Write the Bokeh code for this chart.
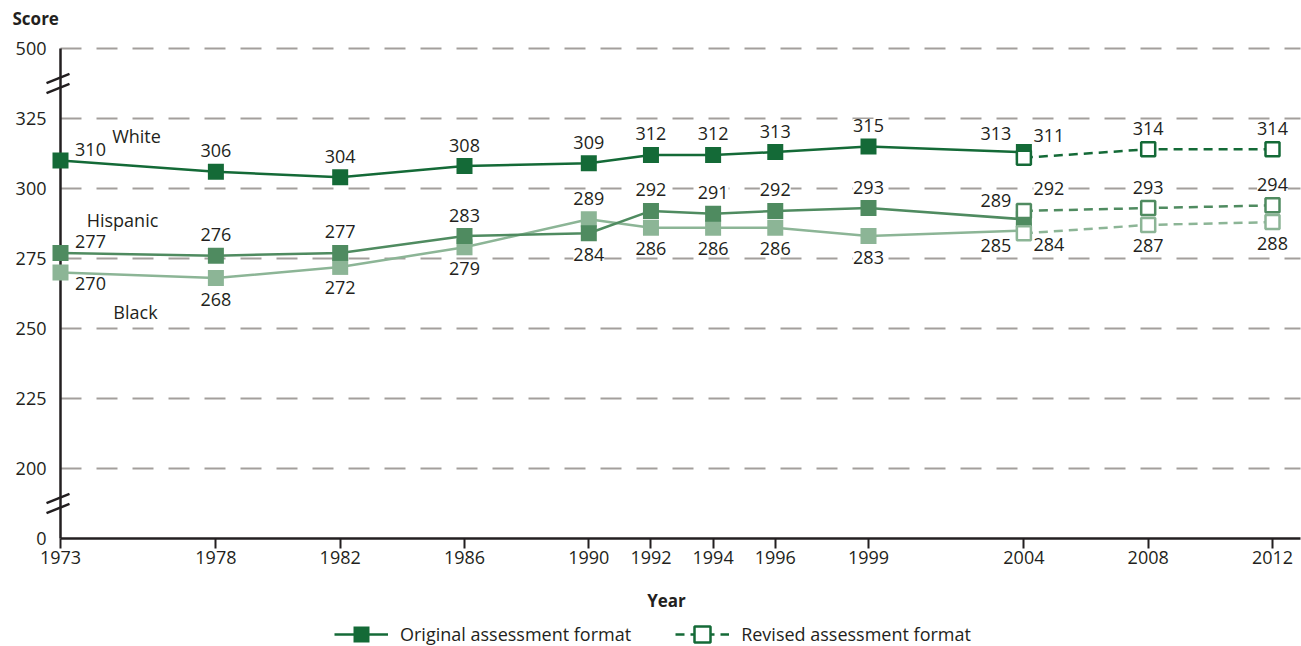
from bokeh.plotting import figure
from bokeh.models import (ColumnDataSource, FixedTicker, LabelSet, Label, Legend, LegendItem)
from bokeh.core.properties import value
from bokeh.embed import file_html
from bokeh.resources import INLINE

# ---------------- data ----------------
years_orig = [1973, 1978, 1982, 1986, 1990, 1992, 1994, 1996, 1999, 2004]
years_rev = [2004, 2008, 2012]

white_orig = [310, 306, 304, 308, 309, 312, 312, 313, 315, 313]
white_rev = [311, 314, 314]
hisp_orig = [277, 276, 277, 283, 284, 292, 291, 292, 293, 289]
hisp_rev = [292, 293, 294]
black_orig = [270, 268, 272, 279, 289, 286, 286, 286, 283, 285]
black_rev = [284, 287, 288]

x_ticks = [1973, 1978, 1982, 1986, 1990, 1992, 1994, 1996, 1999, 2004, 2008, 2012]
y_ticks = [0, 200, 225, 250, 275, 300, 325, 500]

legend_labels = ["Original assessment format", "Revised assessment format"]

# label placement codes (styling, not data)
white_pos_orig = ["r", "a", "a", "a", "a", "a", "a", "a", "a", "al"]
white_pos_rev = ["ar", "a", "a"]
hisp_pos_orig = ["r", "a", "a", "a", "b", "a", "a", "a", "a", "al"]
hisp_pos_rev = ["ar", "a", "a"]
black_pos_orig = ["rb", "b", "b", "b", "a", "b", "b", "b", "b", "bl"]
black_pos_rev = ["br", "b", "b"]
OFF = {"a": (0, 21), "b": (0, -21), "r": (30, 11), "rb": (30, -11),
       "al": (-28, 19), "ar": (25, 22), "bl": (-28, -15), "br": (25, -11)}

# ---------------- style ----------------
FONT = "Open Sans"
FS = "18px"
TXT = "#231f20"
GRID = "#a39f9c"
C_WHITE = "#146a37"
C_HISP = "#4f8b60"
C_BLACK = "#8cb596"

# broken axis: 0 -> 175, 500 -> 350, 200..325 identity
LO, HI = 175, 350


def ymap(v):
    if v <= 0:
        return LO
    if v >= 500:
        return HI
    return v


W, H = 1301, 646
PX_X = 31.077          # pixels per year
PX_Y = 2.8             # pixels per score unit
AX_X, AX_Y = 60, 538   # pixel position of the axes' corner
xs0 = x_ticks[0] - AX_X / PX_X
xs1 = x_ticks[0] + (W - AX_X) / PX_X
ys0 = LO - (H - AX_Y) / PX_Y
ys1 = LO + AX_Y / PX_Y
x_end = xs1 - 1 / PX_X

p = figure(width=W, height=H, x_range=(xs0, xs1), y_range=(ys0, ys1),
           output_backend="svg", toolbar_location=None, min_border=0)
p.outline_line_color = None
p.grid.visible = False
p.background_fill_color = "white"

# x axis (fixed inside the frame)
xa = p.xaxis[0]
xa.fixed_location = LO
xa.ticker = FixedTicker(ticks=x_ticks)
xa.axis_line_color = None
xa.major_tick_out = 10
xa.major_tick_in = 0
xa.minor_tick_line_color = None
xa.major_tick_line_color = TXT
xa.major_tick_line_width = 2
xa.major_label_text_font = FONT
xa.major_label_text_font_size = FS
xa.major_label_text_color = TXT
xa.major_label_standoff = 2

# y axis
ya = p.yaxis[0]
ya.fixed_location = x_ticks[0]
ya.ticker = FixedTicker(ticks=[ymap(v) for v in y_ticks])
ya.major_label_overrides = {ymap(v): str(v) for v in y_ticks}
ya.axis_line_color = None
ya.major_tick_out = 0
ya.major_tick_in = 0
ya.minor_tick_line_color = None
ya.major_label_text_font = FONT
ya.major_label_text_font_size = FS
ya.major_label_text_color = TXT
ya.major_label_standoff = 14

# grid lines
grid_y = [ymap(v) for v in y_ticks if v > 0]
p.segment(x0=[x_ticks[0]] * len(grid_y), y0=grid_y, x1=[x_end] * len(grid_y), y1=grid_y,
          line_color=GRID, line_width=2, line_dash="21 15", level="underlay")

# axis lines
p.segment(x0=[x_ticks[0], x_ticks[0]], y0=[LO, LO], x1=[x_end, x_ticks[0]], y1=[LO, HI],
          line_color=TXT, line_width=2.5)

# break marks
bx0, by0, bx1, by1 = [], [], [], []
for yc in [(ymap(325) + ymap(500)) / 2, (ymap(0) + ymap(200)) / 2]:
    for d in (-1.8, 1.8):
        bx0.append(x_ticks[0] - 14 / PX_X)
        by0.append(yc + d - 1.65)
        bx1.append(x_ticks[0] + 9 / PX_X)
        by1.append(yc + d + 1.65)
p.segment(x0=bx0, y0=by0, x1=bx1, y1=by1, line_color=TXT, line_width=2.5)


# value labels (under glyphs, knocking out gridlines)
def add_labels(xv, yv, pos):
    src = ColumnDataSource(dict(x=xv, y=yv, text=[str(v) for v in yv],
                                dx=[OFF[c][0] for c in pos], dy=[OFF[c][1] for c in pos]))
    p.add_layout(LabelSet(x="x", y="y", text="text", x_offset="dx", y_offset="dy", source=src,
                          text_align="center", text_baseline="middle",
                          text_font=value(FONT), text_font_size=value(FS), text_color=TXT,
                          background_fill_color="white", level="underlay"))


add_labels(years_orig, white_orig, white_pos_orig)
add_labels(years_rev, white_rev, white_pos_rev)
add_labels(years_orig, hisp_orig, hisp_pos_orig)
add_labels(years_rev, hisp_rev, hisp_pos_rev)
add_labels(years_orig, black_orig, black_pos_orig)
add_labels(years_rev, black_rev, black_pos_rev)

# series
rend = {}
for name, yo, col in [("Black", black_orig, C_BLACK), ("Hispanic", hisp_orig, C_HISP),
                      ("White", white_orig, C_WHITE)]:
    l = p.line(years_orig, yo, line_color=col, line_width=2.5)
    s = p.scatter(years_orig, yo, marker="square", size=16, fill_color=col, line_color=None)
    rend[name] = (l, s)
rrend = {}
for name, yr, col in [("Black", black_rev, C_BLACK), ("Hispanic", hisp_rev, C_HISP),
                      ("White", white_rev, C_WHITE)]:
    l = p.line(years_rev, yr, line_color=col, line_width=2.5, line_dash="9 6")
    s = p.scatter(years_rev, yr, marker="square", size=14, fill_color="white",
                  line_color=col, line_width=2.5)
    rrend[name] = (l, s)

# series names
for nm, yv, dx, dy in [("White", white_orig, 76, 25), ("Hispanic", hisp_orig, 62, 33),
                       ("Black", black_orig, 75, -39)]:
    p.add_layout(Label(x=years_orig[0], y=yv[0], x_offset=dx, y_offset=dy, text=nm,
                       text_align="center", text_baseline="middle", text_font=FONT,
                       text_font_size=FS, text_color=TXT))

# titles
p.add_layout(Label(x=x_ticks[0], y=ymap(500), x_offset=-48, y_offset=30, text="Score",
                   text_align="left", text_baseline="middle", text_font=FONT,
                   text_font_size="17px", text_font_style="bold", text_color=TXT))
p.add_layout(Label(x=(x_ticks[0] + x_ticks[-1]) / 2, y=LO, y_offset=-62, text="Year",
                   text_align="center", text_baseline="middle", text_font=FONT,
                   text_font_size="17px", text_font_style="bold", text_color=TXT))

# legend
legend = Legend(items=[LegendItem(label=legend_labels[0], renderers=list(rend["White"])),
                       LegendItem(label=legend_labels[1], renderers=list(rrend["White"]))],
                location=(334, -8), orientation="horizontal", glyph_width=54, glyph_height=40,
                label_standoff=12, spacing=44, padding=0, margin=0,
                border_line_color=None, background_fill_alpha=0,
                label_text_font=FONT, label_text_font_size=FS, label_text_color=TXT)
p.add_layout(legend, "center")

open("out.html", "w").write(file_html(p, INLINE))
